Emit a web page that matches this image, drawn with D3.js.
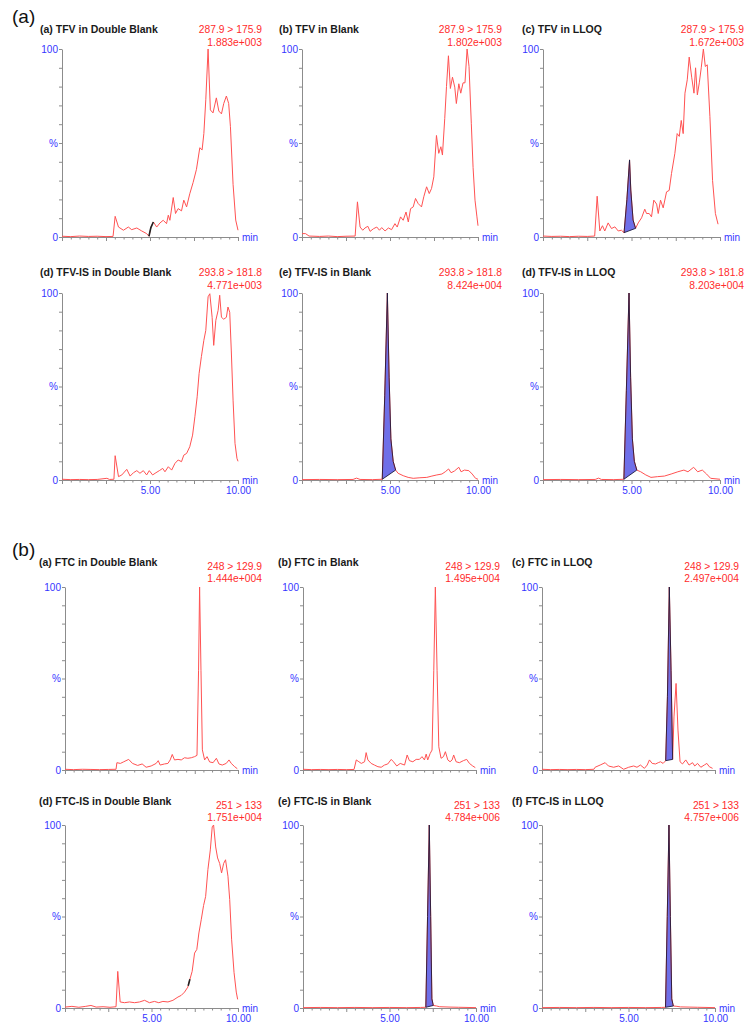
<!DOCTYPE html>
<html>
<head>
<meta charset="utf-8">
<script src="https://cdn.jsdelivr.net/npm/d3@7"></script>
<style>
body { margin: 0; background: #fff; }
svg { display: block; font-family: "Liberation Sans", Arial, sans-serif; }
</style>
</head>
<body>
<svg id="chart" width="746" height="1028"></svg>
<script>
// chromatogram traces, [time (min), relative intensity (%)]
var tfvDoubleBlank = [[0,0.4],[0.5,0.2],[1,0.5],[1.5,0.3],[2,0.4],[2.5,0.2],[2.9,0.3],[3.02,11],[3.21,5.3],[3.49,3.6],[3.77,5.3],[3.96,3.9],[4.25,4.8],[4.53,3.2],[4.81,1.8],[4.94,0.4],[5.05,5],[5.19,8],[5.38,5.3],[5.57,7.5],[5.75,8.9],[5.94,7.1],[6.04,11.6],[6.13,8.9],[6.32,21],[6.45,12.5],[6.6,15.1],[6.79,13.9],[6.92,19.6],[7.08,16],[7.26,23],[7.45,29],[7.64,36],[7.83,47.5],[7.96,46.3],[8.06,55],[8.17,73],[8.3,100],[8.43,67.6],[8.58,66],[8.77,74],[8.91,67],[9.06,65.5],[9.19,71],[9.34,75],[9.47,71],[9.57,58.7],[9.72,28],[9.87,9],[10,3.6]];
var tfvBlank = [[0,1.8],[0.2,1.8],[0.4,0.5],[1,0.3],[1.5,0.5],[2,0.2],[2.5,0.4],[3.02,0.5],[3.15,18.7],[3.3,5.3],[3.45,3.6],[3.58,4.8],[3.74,5.7],[3.87,3],[4.06,4.4],[4.25,5.3],[4.4,3.6],[4.53,5],[4.72,3.2],[4.91,4.8],[5.09,3.9],[5.28,7.1],[5.41,5.3],[5.6,10.7],[5.75,8.9],[5.91,13.3],[6.04,8],[6.17,15.1],[6.32,16],[6.45,20.5],[6.6,17.8],[6.79,16],[6.92,21.4],[7.08,26.7],[7.23,23.1],[7.36,25.8],[7.49,32],[7.64,54],[7.77,44.5],[7.89,48],[7.98,43.6],[8.11,63],[8.21,80],[8.32,96.4],[8.43,79],[8.55,85],[8.68,79.7],[8.77,71],[8.91,81.5],[9.02,76.5],[9.15,82],[9.26,82],[9.38,100],[9.49,90.7],[9.62,60.5],[9.72,37],[9.83,19.6],[9.94,10.7],[10,6]];
var tfvLLOQ = [[0,0.5],[0.5,0.3],[1,0.4],[1.5,0.2],[2,0.4],[2.5,0.3],[2.92,0.5],[3.06,21.7],[3.21,3.2],[3.36,6],[3.49,3.2],[3.68,7.5],[3.87,4.5],[4.06,5.4],[4.25,3.2],[4.43,3.6],[4.58,2.3],[4.74,20],[4.89,41],[4.96,25],[5.09,9],[5.23,4.6],[5.38,7.5],[5.57,10.2],[5.75,14.8],[5.85,12.5],[6,12.5],[6.13,10.7],[6.26,19.6],[6.42,17.5],[6.51,12.5],[6.64,19.6],[6.79,15.5],[6.98,24],[7.13,24.8],[7.26,33.8],[7.45,44.5],[7.58,55],[7.7,53.5],[7.81,62],[7.92,55],[8.02,76.5],[8.15,83.6],[8.26,95.7],[8.4,85],[8.53,76.5],[8.62,90],[8.72,75.6],[8.83,82],[8.94,90],[9.06,100],[9.17,90.7],[9.28,91.6],[9.43,64],[9.58,30],[9.74,12.5],[9.89,6.8]];
var tfvIsDoubleBlank = [[0,0.4],[0.5,0.2],[1,0.3],[1.5,0.2],[2,0.3],[2.55,0.9],[2.7,0.3],[2.95,0.4],[3.02,13],[3.21,1.8],[3.4,2.7],[3.68,5.7],[3.87,2.1],[4.06,3.9],[4.25,5],[4.43,3.6],[4.62,5],[4.81,2.7],[4.96,5],[5.15,2.7],[5.34,3.9],[5.53,5],[5.72,6.2],[5.85,4.4],[6.04,7.1],[6.23,5.3],[6.42,8.9],[6.6,10.7],[6.79,9.8],[6.92,13.3],[7.08,14.2],[7.26,17.8],[7.42,24],[7.55,33.8],[7.68,44.5],[7.79,57],[7.92,66],[8.06,74.7],[8.17,80],[8.3,98],[8.4,99.6],[8.53,87],[8.62,72],[8.74,85.4],[8.87,90.7],[8.96,98.8],[9.06,87],[9.19,86],[9.34,87],[9.43,92.5],[9.53,89.7],[9.62,69],[9.72,42.7],[9.83,19.6],[9.94,11.6],[10,10]];
var tfvIsBlank = [[0,0.2],[1,0.3],[2,0.2],[2.9,0.3],[3.1,1],[3.3,0.3],[4,0.2],[4.56,0.4],[4.7,45],[4.85,100],[4.95,55],[5.05,22],[5.18,10],[5.32,5.3],[5.46,3.6],[5.75,2.3],[6.03,1.4],[6.32,0.9],[6.7,1.2],[7.09,1.4],[7.38,2.1],[7.66,2.7],[7.95,3.2],[8.14,4.4],[8.33,5.9],[8.47,3.9],[8.66,4.8],[8.91,6.8],[9.04,4.4],[9.23,5.3],[9.48,5],[9.67,3.2],[9.86,0.9],[10,0.4]];
var tfvIsLLOQ = [[0,0.2],[1,0.3],[2,0.2],[2.95,0.3],[3.14,1],[3.3,0.3],[4,0.2],[4.57,0.4],[4.71,48],[4.86,100],[4.95,55],[5.05,22],[5.16,10],[5.3,5.3],[5.52,4.4],[5.81,2.7],[6.1,1.4],[6.48,1.8],[6.86,2.1],[7.24,3.2],[7.62,4.4],[7.96,5.3],[8.19,4.4],[8.51,6.8],[8.74,4.4],[9,5.3],[9.24,3.2],[9.47,0.9],[10,0.4]];
var ftcDoubleBlank = [[0,0.4],[0.5,0.2],[1,0.4],[1.5,0.3],[2,0.2],[2.5,0.3],[2.95,0.4],[3,4],[3.2,3.6],[3.4,4.5],[3.68,5.8],[3.9,3.6],[4.2,2.5],[4.46,3.3],[4.69,1.5],[4.98,2.2],[5.27,3.6],[5.39,5.1],[5.5,2.7],[5.75,3.3],[5.95,3.6],[6.08,5.5],[6.2,8.5],[6.33,5.5],[6.53,5.8],[6.72,5.5],[6.91,6.7],[7.1,6.4],[7.3,6.7],[7.49,7.3],[7.63,8],[7.72,54.5],[7.78,100],[7.86,54.5],[7.94,11],[8.07,5.5],[8.21,7.3],[8.36,4.4],[8.56,4],[8.75,6.4],[8.9,3.3],[9.09,2.7],[9.32,3.6],[9.48,5.5],[9.61,3.6],[9.81,1.8],[9.96,0.7]];
var ftcBlank = [[0,0.4],[0.5,0.2],[1,0.3],[1.5,0.2],[2,0.3],[2.5,0.2],[2.95,0.3],[3.08,5.5],[3.23,4.5],[3.37,3.6],[3.56,4.5],[3.65,9.5],[3.75,5.5],[3.94,3.6],[4.13,2.7],[4.33,1.8],[4.52,1.5],[4.71,2.7],[4.9,3.3],[5.1,5.8],[5.23,4.5],[5.42,2.2],[5.62,3.6],[5.87,2.7],[6.02,8.2],[6.15,5.1],[6.35,4.5],[6.54,5.8],[6.73,5.8],[6.88,7.3],[7.02,5.5],[7.12,8.7],[7.21,5.5],[7.35,9],[7.46,10.9],[7.56,54.5],[7.65,100],[7.75,54.5],[7.85,12.7],[7.98,6.4],[8.12,7.3],[8.23,10],[8.37,5.5],[8.5,4.5],[8.62,5.5],[8.71,8.2],[8.85,4.5],[9.04,4],[9.27,5.1],[9.46,5.8],[9.62,3.6],[9.81,2.2],[9.96,1.3]];
var ftcLLOQ = [[0,0.4],[0.5,0.2],[1,0.3],[1.5,0.2],[2,0.3],[2.5,0.2],[3,0.4],[3.07,1.5],[3.36,2.7],[3.65,4],[3.84,2.2],[4.14,1.5],[4.43,2.2],[4.72,0.4],[5.01,1.5],[5.3,2.2],[5.49,1.5],[5.69,2.7],[5.92,0.9],[6.08,2.7],[6.21,5.5],[6.37,3.6],[6.56,3.3],[6.72,4],[6.85,4.5],[7,3.6],[7.15,5.1],[7.25,40],[7.36,100],[7.46,54.5],[7.55,5.8],[7.63,29],[7.75,47.3],[7.86,21.8],[7.98,4.5],[8.12,3.3],[8.31,5.5],[8.5,2.7],[8.7,4],[8.83,2.2],[8.99,3.6],[9.18,1.5],[9.38,2.7],[9.53,3.6],[9.67,1.8],[9.86,0.9]];
var ftcIsDoubleBlank = [[0,0.5],[0.4,0.9],[0.8,0.4],[1.2,0.9],[1.5,1.4],[1.8,0.5],[2.2,0.7],[2.6,0.4],[2.95,0.7],[3.05,20],[3.19,3.3],[3.44,2.9],[3.73,3.3],[4.02,2.9],[4.31,3.3],[4.6,4.2],[4.88,2.9],[5.17,3.6],[5.42,2.9],[5.66,3.6],[5.95,3.3],[6.24,4.2],[6.53,6],[6.72,6.9],[6.91,8.7],[7.1,11.4],[7.2,15],[7.35,20],[7.49,30],[7.62,32],[7.74,41],[7.88,48.5],[8.01,56],[8.13,61],[8.26,75.6],[8.4,86.4],[8.51,99],[8.59,100],[8.71,88],[8.82,82],[8.94,79],[9.05,73.8],[9.17,79],[9.28,81],[9.42,72],[9.52,59.3],[9.63,37.6],[9.77,19.5],[9.9,8.7],[9.98,4.7]];
var ftcIsBlank = [[0,0.2],[1,0.3],[2,0.2],[3,0.3],[4,0.2],[5,0.3],[6,0.2],[6.8,0.3],[7.1,0.4],[7.2,50],[7.3,100],[7.38,50],[7.45,5],[7.53,1.4],[7.72,1.1],[7.9,0.7],[8.5,0.5],[9,0.4],[10,0.2]];
var ftcIsLLOQ = [[0,0.2],[1,0.3],[2,0.2],[3,0.3],[4,0.2],[5,0.3],[6,0.2],[6.9,0.3],[7.14,0.4],[7.24,50],[7.34,100],[7.42,50],[7.5,5],[7.59,1.1],[7.8,0.9],[8,0.6],[8.5,0.5],[9,0.4],[10,0.2]];

var sectionLabels = ['(a)', '(b)'];
var titles = ['(a) TFV in Double Blank', '(b) TFV in Blank', '(c) TFV in LLOQ',
  '(d) TFV-IS in Double Blank', '(e) TFV-IS in Blank', '(d) TFV-IS in LLOQ',
  '(a) FTC in Double Blank', '(b) FTC in Blank', '(c) FTC in LLOQ',
  '(d) FTC-IS in Double Blank', '(e) FTC-IS in Blank', '(f) FTC-IS in LLOQ'];
var transitions = ['287.9 > 175.9', '287.9 > 175.9', '287.9 > 175.9',
  '293.8 > 181.8', '293.8 > 181.8', '293.8 > 181.8',
  '248 > 129.9', '248 > 129.9', '248 > 129.9',
  '251 > 133', '251 > 133', '251 > 133'];
var intensities = ['1.883e+003', '1.802e+003', '1.672e+003',
  '4.771e+003', '8.424e+004', '8.203e+004',
  '1.444e+004', '1.495e+004', '2.497e+004',
  '1.751e+004', '4.784e+006', '4.757e+006'];
// integrated peak windows (min)
var peakWindows = [null, null, [4.58, 5.23], null, [4.56, 5.32], [4.57, 5.30],
  null, null, [7.15, 7.55], null, [7.10, 7.53], [7.14, 7.59]];
// small dark integration marks on the trace (min)
var markWindows = [[4.94, 5.19], null, null, null, null, null,
  null, null, null, [7.12, 7.22], null, null];
var xTickLabels = [5, 10];

var series = [tfvDoubleBlank, tfvBlank, tfvLLOQ, tfvIsDoubleBlank, tfvIsBlank, tfvIsLLOQ,
  ftcDoubleBlank, ftcBlank, ftcLLOQ, ftcIsDoubleBlank, ftcIsBlank, ftcIsLLOQ];

// layout
var blocks = [
  { labelY: 23, axisX: [62, 302, 543], axisW: [176, 176, 177], titleX: [40, 279, 522],
    rows: [{ top: 49, base: 237, title: 33 }, { top: 293, base: 480, title: 276 }],
    red1: 0, red2: 13 },
  { labelY: 556, axisX: [65, 303, 542], axisW: [173, 173, 173], titleX: [39, 278, 512],
    rows: [{ top: 587, base: 770, title: 566 }, { top: 825, base: 1008, title: 805 }],
    red1: 4, red2: 16 }
];

var RED = '#ff5252', REDTXT = '#ff2b2b', BLUE = '#3535ff', GREY = '#8c8c8c', FILL = '#6f6fe8';

var svg = d3.select('#chart');
svg.append('rect').attr('width', 746).attr('height', 1028).attr('fill', '#fff');

var interp = function (data, t) {
  for (var i = 1; i < data.length; i++) {
    if (data[i][0] >= t) {
      var a = data[i - 1], b = data[i];
      return a[1] + (b[1] - a[1]) * (t - a[0]) / (b[0] - a[0]);
    }
  }
  return data[data.length - 1][1];
};

var clip = function (data, w) {
  var pts = [[w[0], interp(data, w[0])]];
  data.forEach(function (d) { if (d[0] > w[0] && d[0] < w[1]) pts.push(d); });
  pts.push([w[1], interp(data, w[1])]);
  return pts;
};

blocks.forEach(function (block, bi) {
  svg.append('text')
    .attr('x', 12).attr('y', block.labelY)
    .attr('font-size', 19).attr('fill', '#111')
    .text(sectionLabels[bi]);

  block.rows.forEach(function (row, ri) {
    for (var c = 0; c < 3; c++) {
      var idx = bi * 6 + ri * 3 + c;
      var x0 = block.axisX[c], w = block.axisW[c];
      var data = series[idx];
      var x = d3.scaleLinear().domain([0, 10]).range([x0, x0 + w]);
      var y = d3.scaleLinear().domain([0, 100]).range([row.base, row.top]);
      var g = svg.append('g');

      // y axis
      var ya = g.append('g')
        .attr('transform', 'translate(' + x0 + ',0)')
        .call(d3.axisLeft(y).tickValues(d3.range(0, 101, 10)).tickSize(3).tickSizeOuter(0).tickPadding(1)
          .tickFormat(function (d) { return d === 100 ? '100' : d === 50 ? '%' : d === 0 ? '0' : ''; }));
      ya.select('.domain').attr('stroke', GREY);
      ya.selectAll('line').attr('stroke', GREY);
      ya.selectAll('text').attr('fill', BLUE).attr('font-size', 10).attr('font-family', null);

      // x axis
      var bottomRow = ri === 1;
      var xa = g.append('g')
        .attr('transform', 'translate(0,' + row.base + ')')
        .call(d3.axisBottom(x).tickValues(d3.range(0, 10.01, 0.5)).tickSize(2.5).tickSizeOuter(0)
          .tickFormat(function (d) { return bottomRow && xTickLabels.indexOf(d) >= 0 ? d.toFixed(2) : ''; }));
      xa.select('.domain').attr('stroke', GREY);
      xa.selectAll('line').attr('stroke', GREY)
        .filter(function (d) { return d % 2.5 === 0; }).attr('y2', 4);
      xa.selectAll('text').attr('fill', BLUE).attr('font-size', 10).attr('font-family', null).attr('y', 7);

      g.append('text')
        .attr('x', x0 + w + 4).attr('y', row.base + 4)
        .attr('font-size', 10).attr('fill', BLUE).text('min');

      // integrated peak
      var win = peakWindows[idx];
      if (win) {
        var pts = clip(data, win);
        var v0 = pts[0][1], v1 = pts[pts.length - 1][1];
        var baseAt = function (t) { return v0 + (v1 - v0) * (t - win[0]) / (win[1] - win[0]); };
        g.append('path')
          .datum(pts)
          .attr('fill', FILL)
          .attr('d', d3.area().x(function (d) { return x(d[0]); })
            .y0(function (d) { return y(baseAt(d[0])); })
            .y1(function (d) { return y(d[1]); }));
      }

      // trace
      g.append('path')
        .datum(data)
        .attr('fill', 'none').attr('stroke', RED).attr('stroke-width', 1)
        .attr('d', d3.line().x(function (d) { return x(d[0]); }).y(function (d) { return y(d[1]); }));

      if (win) {
        var pk = clip(data, win);
        g.append('path')
          .datum(pk.concat([pk[0]]))
          .attr('fill', 'none').attr('stroke', '#1a1a40').attr('stroke-width', 0.9)
          .attr('d', d3.line().x(function (d) { return x(d[0]); }).y(function (d) { return y(d[1]); }));
      }

      var mk = markWindows[idx];
      if (mk) {
        g.append('path')
          .datum(clip(data, mk))
          .attr('fill', 'none').attr('stroke', '#222').attr('stroke-width', 1.6)
          .attr('d', d3.line().x(function (d) { return x(d[0]); }).y(function (d) { return y(d[1]); }));
      }

      // labels
      g.append('text')
        .attr('x', block.titleX[c]).attr('y', row.title)
        .attr('font-size', 10.5).attr('font-weight', 'bold').attr('fill', '#1a1a1a')
        .text(titles[idx]);
      g.append('text')
        .attr('x', x0 + w + 24).attr('y', row.title + block.red1)
        .attr('text-anchor', 'end').attr('font-size', 10.3).attr('fill', REDTXT)
        .text(transitions[idx]);
      g.append('text')
        .attr('x', x0 + w + 24).attr('y', row.title + block.red2)
        .attr('text-anchor', 'end').attr('font-size', 10.3).attr('fill', REDTXT)
        .text(intensities[idx]);
    }
  });
});
</script>
</body>
</html>
